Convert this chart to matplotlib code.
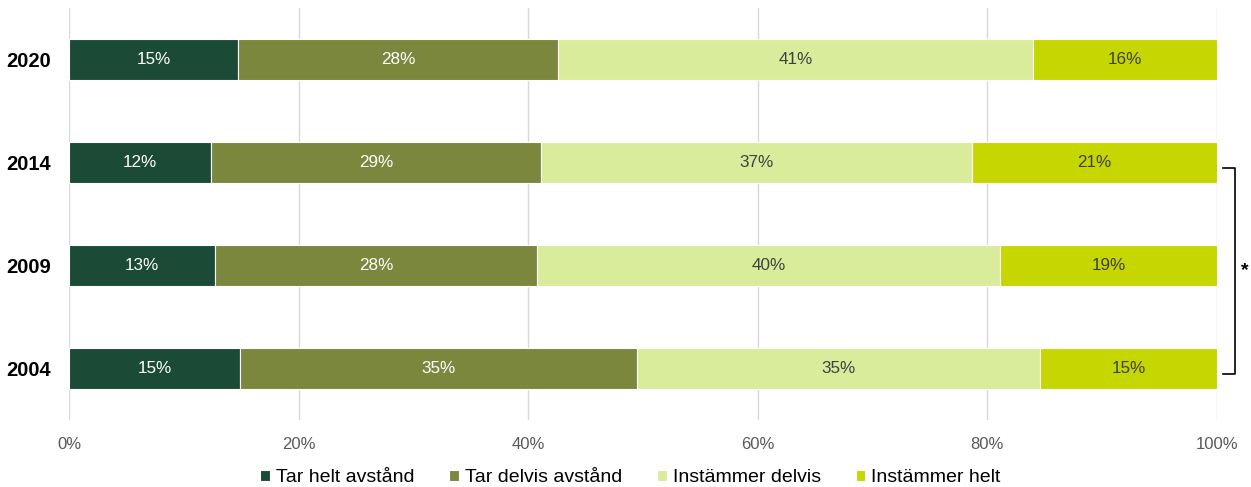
import numpy as np
import matplotlib.pyplot as plt

plt.rcParams["font.family"] = ["Liberation Sans", "DejaVu Sans"]

years = ["2020", "2014", "2009", "2004"]
categories = ["Tar helt avstånd", "Tar delvis avstånd", "Instämmer delvis", "Instämmer helt"]
# share of respondents (%) per year, bar segments
values = {
    "Tar helt avstånd": [14.7, 12.4, 12.7, 14.9],
    "Tar delvis avstånd": [27.9, 28.7, 28.1, 34.6],
    "Instämmer delvis": [41.4, 37.6, 40.3, 35.1],
    "Instämmer helt": [16.0, 21.3, 18.9, 15.4],
}
labels = {
    "Tar helt avstånd": ["15%", "12%", "13%", "15%"],
    "Tar delvis avstånd": ["28%", "29%", "28%", "35%"],
    "Instämmer delvis": ["41%", "37%", "40%", "35%"],
    "Instämmer helt": ["16%", "21%", "19%", "15%"],
}
colors = ["#1b4a37", "#7b873d", "#d9ec9b", "#c5d600"]
text_colors = ["white", "white", "#404040", "#404040"]

fig = plt.figure(figsize=(12.51, 4.87), dpi=100)
ax = fig.add_axes([69 / 1251, 1 - 420 / 487, 1148 / 1251, 412 / 487])

y = np.arange(len(years))
left = np.zeros(len(years))
for cat, col, tcol in zip(categories, colors, text_colors):
    vals = np.array(values[cat])
    ax.barh(y, vals, left=left, height=0.39, color=col, edgecolor="white",
            linewidth=0.8, label=cat, zorder=3)
    for yi, (l, v, s) in enumerate(zip(left, vals, labels[cat])):
        ax.text(l + v / 2, yi, s, ha="center", va="center", color=tcol,
                fontsize=12.3, zorder=4)
    left += vals

ax.set_xlim(0, 100)
ax.set_ylim(3.5, -0.5)
ax.set_yticks(y)
ax.set_yticklabels(years, fontsize=14.5, fontweight="bold")
ax.set_xticks(np.arange(0, 101, 20))
ax.set_xticklabels([f"{t}%" for t in range(0, 101, 20)], fontsize=12, color="#595959")
ax.tick_params(axis="both", length=0)
ax.tick_params(axis="y", pad=13)
ax.tick_params(axis="x", pad=12)
ax.grid(axis="x", color="#d9d9d9", linewidth=1, zorder=0)
for sp in ax.spines.values():
    sp.set_visible(False)

# significance bracket between 2014 and 2004
bx0, bx1 = 100.5, 101.6
ax.plot([bx0, bx1, bx1, bx0], [1.05, 1.05, 3.05, 3.05], color="black",
        linewidth=1.2, clip_on=False)
ax.text(102.4, 2.05, "*", ha="center", va="center", fontsize=14,
        fontweight="bold", clip_on=False)

ax.legend(loc="center", bbox_to_anchor=(0.489, -0.14), ncol=4, frameon=False,
          fontsize=14, handlelength=0.5, handleheight=0.5, handletextpad=0.3,
          columnspacing=1.8, borderpad=0)

fig.savefig("out.png", dpi=100)
